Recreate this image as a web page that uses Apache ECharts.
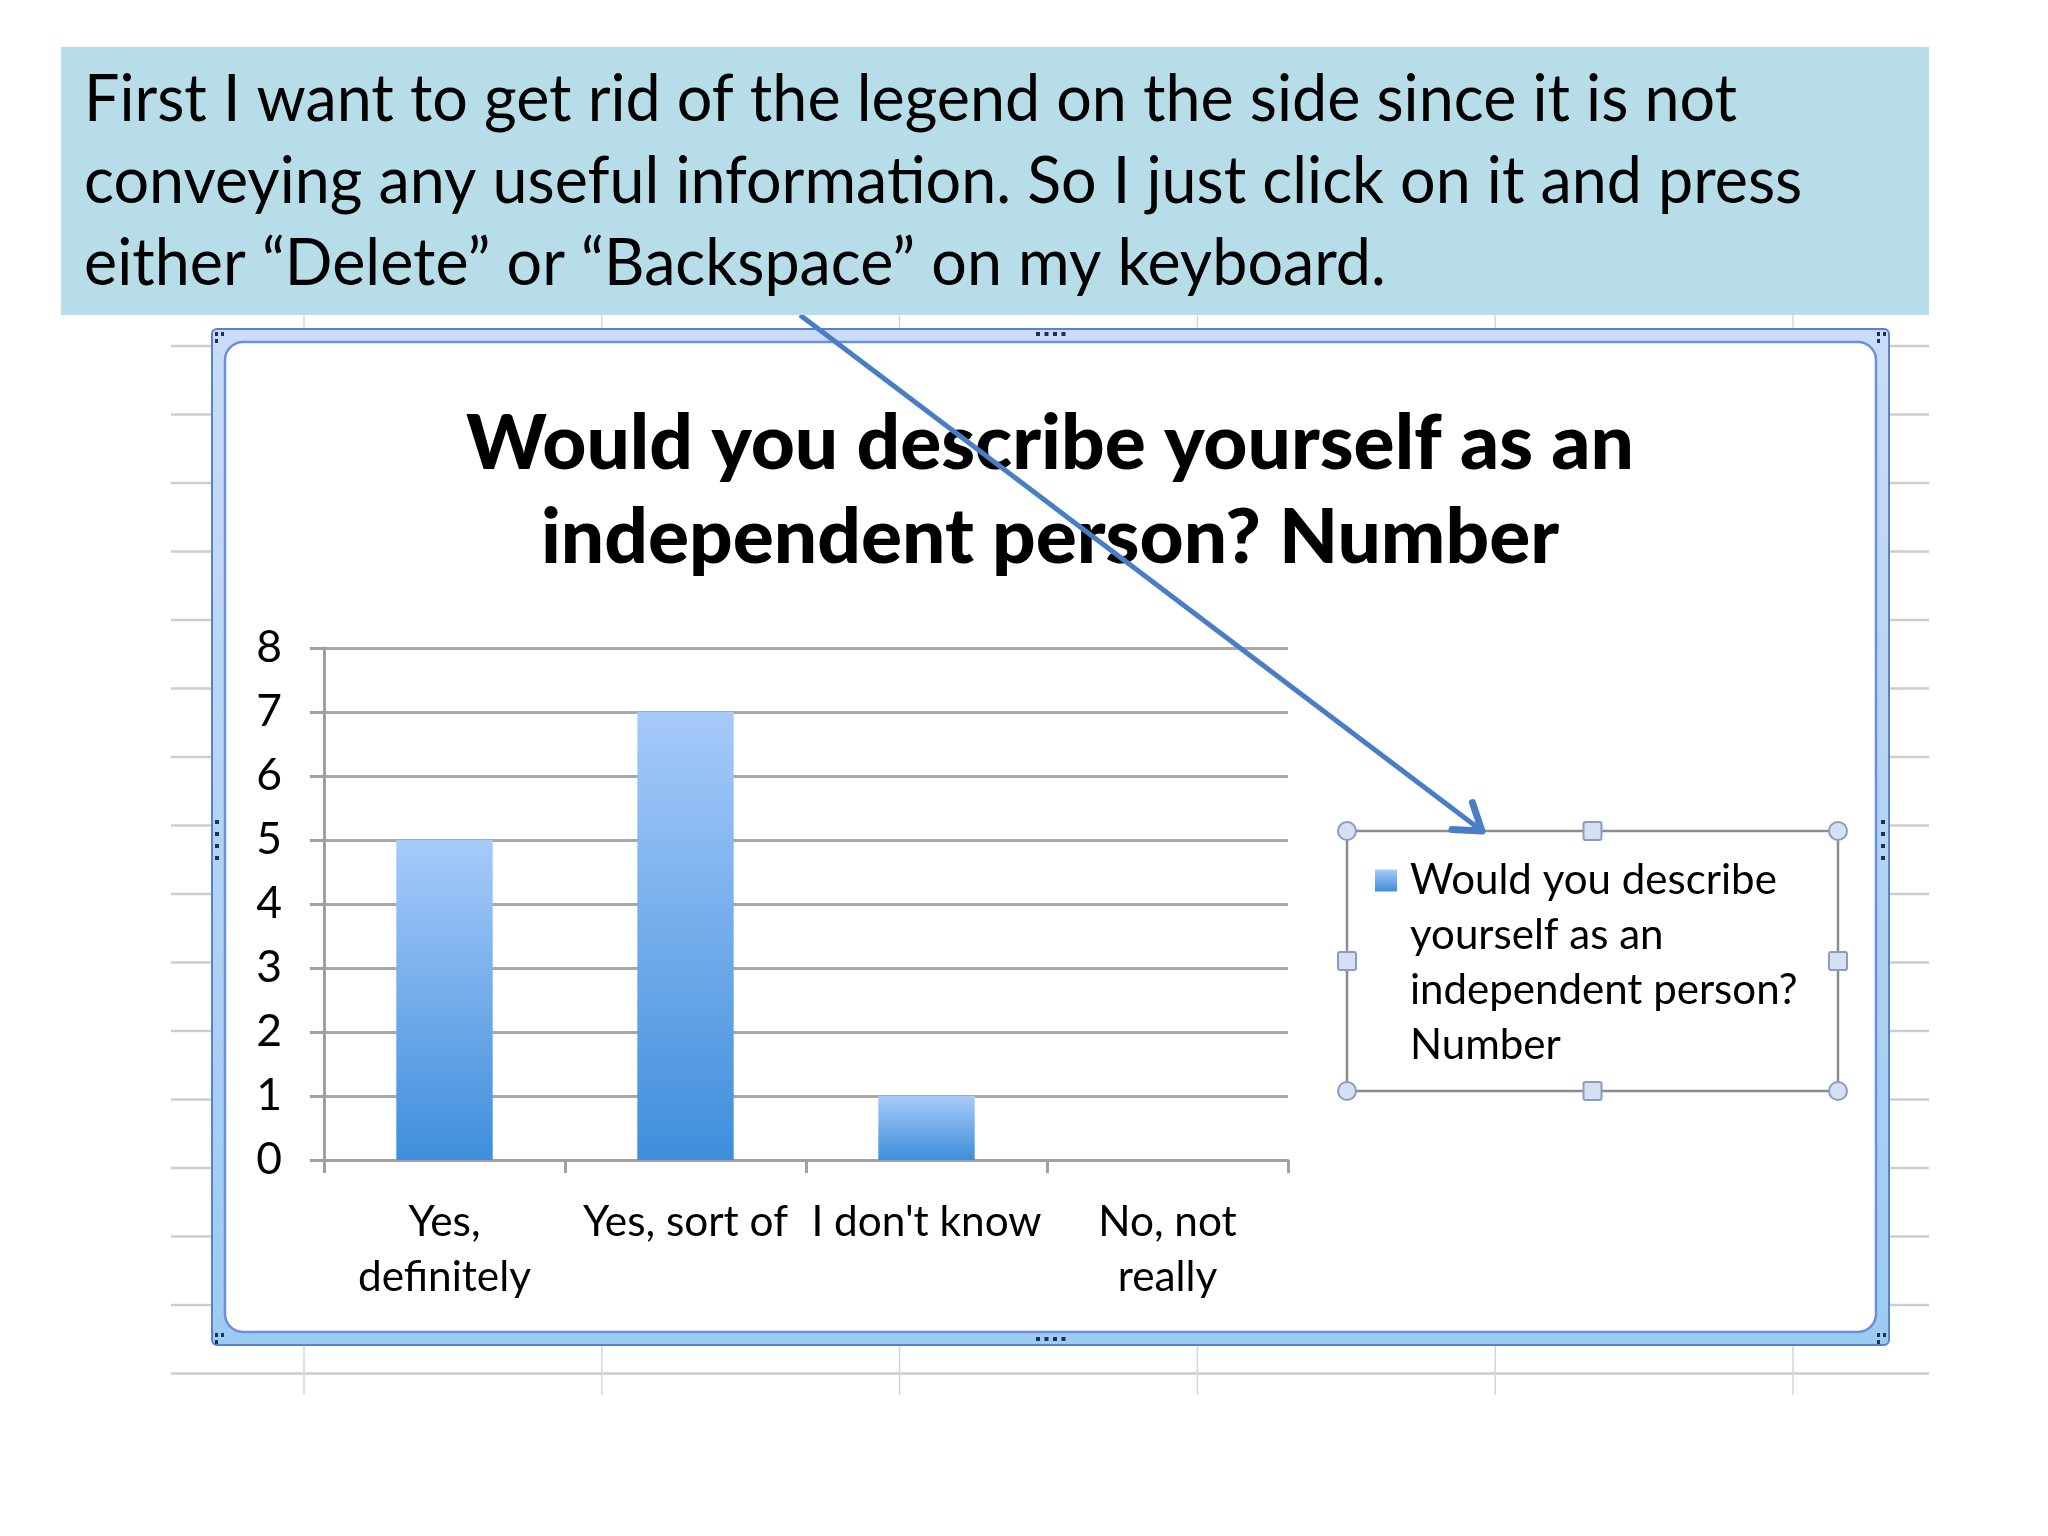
<!DOCTYPE html>
<html><head><meta charset="utf-8">
<script src="https://cdn.jsdelivr.net/npm/echarts@6/dist/echarts.min.js"></script>
<style>html,body{margin:0;padding:0;background:#fff}#chart{width:2048px;height:1536px}</style>
</head><body><div id="chart"></div>
<script>
// ---- data ----
const categories = ['Yes,\ndefinitely', 'Yes, sort of', "I don't know", 'No, not\nreally'];
const counts = [5, 7, 1, 0];
const seriesName = 'Would you describe yourself as an independent person? Number';
const titleLines = ['Would you describe yourself as an', 'independent person? Number'];
const legendLines = ['Would you describe', 'yourself as an', 'independent person?', 'Number'];
const noteLines = [
  'First I want to get rid of the legend on the side since it is not',
  'conveying any useful information. So I just click on it and press',
  'either \u201cDelete\u201d or \u201cBackspace\u201d on my keyboard.'
];
const yMin = 0, yMax = 8, yStep = 1;

// ---- helpers (layout only) ----
const FONT = 'Lato, "Open Sans", sans-serif';
const mctx = document.createElement('canvas').getContext('2d');
function natural(text, weight, size) { mctx.font = weight + ' ' + size + 'px ' + FONT; return mctx.measureText(text).width; }
function fit(text, weight, target) { return 100 * target / natural(text, weight, 100); }

const TITLE_WEIGHT = 900;
const titleSize = fit(titleLines[0], TITLE_WEIGHT, 1168);
const legendSize = fit(legendLines[0], 'normal', 367);
const axisSize = fit('Yes, sort of', 'normal', 205);
const noteSize = 66;
const noteScale = 1653 / natural(noteLines[0], 'normal', noteSize);

const graphics = [];
// spreadsheet background grid
for (let i = 0; i < 16; i++) {
  const y = 346 + i * 68.5;
  graphics.push({ type: 'line', z: -5, shape: { x1: 171, y1: y, x2: 1929, y2: y }, style: { stroke: '#cdcdcd', lineWidth: 2.5 } });
}
for (let i = 0; i < 6; i++) {
  const x = 304 + i * 297.8;
  graphics.push({ type: 'line', z: -5, shape: { x1: x, y1: 315, x2: x, y2: 1395 }, style: { stroke: '#d6d6d6', lineWidth: 1.5 } });
}
// chart frame
graphics.push({ type: 'rect', z: -3, shape: { x: 212, y: 329, width: 1677, height: 1016, r: 5 },
  style: { fill: { type: 'linear', x: 0, y: 0, x2: 0, y2: 1, colorStops: [{ offset: 0, color: '#cadcf7' }, { offset: 1, color: '#9ccbf2' }] }, stroke: '#5a80d6', lineWidth: 2 } });
graphics.push({ type: 'rect', z: -2, shape: { x: 225, y: 342, width: 1651, height: 990, r: 18 },
  style: { fill: '#ffffff', stroke: '#6a8ee0', lineWidth: 2.5 } });
// frame resize grips (small dark dots)
const dotStyle = { fill: '#1e2f5c' };
function hDots(cx, cy) { for (let k = 0; k < 4; k++) graphics.push({ type: 'rect', z: -1, shape: { x: cx - 15 + k * 8.5, y: cy - 2, width: 4, height: 4 }, style: dotStyle }); }
function vDots(cx, cy) { for (let k = 0; k < 4; k++) graphics.push({ type: 'rect', z: -1, shape: { x: cx - 2, y: cy - 18 + k * 12, width: 4, height: 4 }, style: dotStyle }); }
hDots(1051, 334); hDots(1051, 1339); vDots(217, 838); vDots(1883, 838);
[[218, 335], [1880, 335], [218, 1336], [1880, 1336]].forEach(p => {
  graphics.push({ type: 'rect', z: -1, shape: { x: p[0] - 3, y: p[1] - 3, width: 3, height: 4 }, style: dotStyle });
  graphics.push({ type: 'rect', z: -1, shape: { x: p[0] + 3, y: p[1] - 3, width: 3, height: 4 }, style: dotStyle });
  graphics.push({ type: 'rect', z: -1, shape: { x: p[0] - 3, y: p[1] + 4, width: 3, height: 4 }, style: dotStyle });
});
// selected legend box with handles
graphics.push({ type: 'rect', z: 5, shape: { x: 1347, y: 831, width: 491, height: 260 }, style: { fill: null, stroke: '#8c8c8c', lineWidth: 2.5 } });
[[1347, 831], [1838, 831], [1347, 1091], [1838, 1091]].forEach(p => graphics.push({ type: 'circle', z: 6, shape: { cx: p[0], cy: p[1], r: 9 }, style: { fill: '#d5e0f3', stroke: '#8a9cc2', lineWidth: 2 } }));
[[1592.5, 831], [1592.5, 1091], [1347, 961], [1838, 961]].forEach(p => graphics.push({ type: 'rect', z: 6, shape: { x: p[0] - 9, y: p[1] - 9, width: 18, height: 18, r: 2 }, style: { fill: '#d5e0f3', stroke: '#8a9cc2', lineWidth: 2 } }));
// arrow
const A0 = [800, 315], A1 = [1482, 831];
const ang = Math.atan2(A1[1] - A0[1], A1[0] - A0[0]);
const hl = 30, ha = 0.6;
graphics.push({ type: 'line', z: 20, shape: { x1: A0[0], y1: A0[1], x2: A1[0] - 4 * Math.cos(ang), y2: A1[1] - 4 * Math.sin(ang) }, style: { stroke: '#4a7ec4', lineWidth: 5 } });
graphics.push({ type: 'polyline', z: 20, shape: { points: [
  [A1[0] - hl * Math.cos(ang - ha), A1[1] - hl * Math.sin(ang - ha)], A1,
  [A1[0] - hl * Math.cos(ang + ha), A1[1] - hl * Math.sin(ang + ha)]] },
  style: { stroke: '#4a7ec4', lineWidth: 7, lineJoin: 'round', lineCap: 'round', fill: null } });
// annotation box
graphics.push({ type: 'rect', z: 30, shape: { x: 61, y: 47, width: 1868, height: 268 }, style: { fill: '#b7dde8' } });
graphics.push({ type: 'text', z: 31, x: 84, y: 59, scaleX: noteScale, style: {
  x: 0, y: 0, text: noteLines.join('\n'), font: 'normal ' + noteSize + 'px ' + FONT,
  lineHeight: 82, fill: '#000', verticalAlign: 'top', align: 'left' } });

const chart = echarts.init(document.getElementById('chart'), null, { renderer: 'canvas' });
chart.setOption({
  backgroundColor: '#ffffff',
  animation: false,
  title: {
    text: titleLines.join('\n'), left: 1050, top: 397, textAlign: 'center', padding: 0,
    textStyle: { fontFamily: FONT, fontWeight: TITLE_WEIGHT, fontSize: titleSize, lineHeight: 94, color: '#000' }
  },
  legend: {
    data: [seriesName], orient: 'vertical', left: 1375, top: 688, padding: 0,
    itemWidth: 22, itemHeight: 22, icon: 'rect',
    // three leading blank lines keep the marker level with the first text line
    formatter: () => '\n\n\n' + legendLines.join('\n'),
    textStyle: { fontFamily: FONT, fontSize: legendSize, lineHeight: 55, color: '#000', padding: [0, 0, 0, 8] }
  },
  grid: { left: 324, right: 760, top: 648, bottom: 376, containLabel: false },
  xAxis: {
    type: 'category', data: categories,
    axisLine: { lineStyle: { color: '#a0a0a0', width: 3 } },
    axisTick: { show: true, length: 13, lineStyle: { color: '#a0a0a0', width: 3 } },
    axisLabel: { interval: 0, fontFamily: FONT, fontSize: axisSize, lineHeight: 55, color: '#000', margin: 35 }
  },
  yAxis: {
    type: 'value', min: yMin, max: yMax, interval: yStep,
    axisLine: { show: true, lineStyle: { color: '#a0a0a0', width: 3 } },
    axisTick: { show: true, length: 14, lineStyle: { color: '#a0a0a0', width: 3 } },
    splitLine: { lineStyle: { color: '#a8a8a8', width: 3 } },
    axisLabel: { fontFamily: FONT, fontSize: axisSize * 1.05, color: '#000', margin: 42 }
  },
  series: [{
    name: seriesName, type: 'bar', data: counts, barWidth: '40%',
    itemStyle: { color: { type: 'linear', x: 0, y: 0, x2: 0, y2: 1, colorStops: [{ offset: 0, color: '#a6cafa' }, { offset: 1, color: '#3f8edb' }] } }
  }],
  graphic: { elements: graphics }
});
</script>
</body></html>
